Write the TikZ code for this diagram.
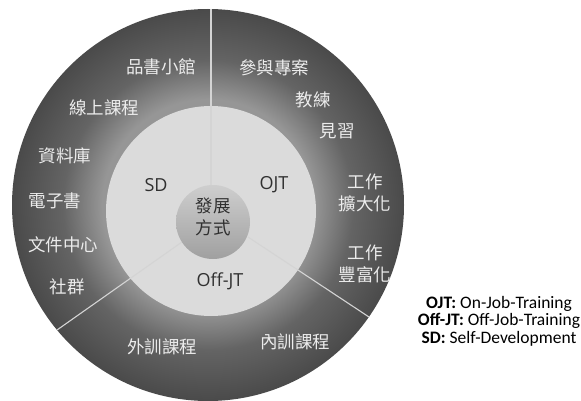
\documentclass[tikz,border=0pt]{standalone}
\usepackage{fontspec}
\setmainfont{Open Sans}
\newfontfamily\cjk{Noto Sans CJK TC}
\newfontfamily\legendfont{Carlito}
\usetikzlibrary{positioning}

\definecolor{ringdark}{RGB}{74,74,74}
\definecolor{ringmid}{RGB}{100,100,100}
\definecolor{ringlight}{RGB}{150,150,150}
\definecolor{disc}{RGB}{219,219,219}
\definecolor{coretop}{RGB}{206,206,206}
\definecolor{corebot}{RGB}{160,160,160}
\definecolor{spoke}{RGB}{212,212,212}
\definecolor{outtext}{RGB}{236,236,236}
\definecolor{intext}{RGB}{48,48,48}

% radius of the ring = 25bp
\pgfdeclareradialshading{ringshade}{\pgfpoint{0bp}{0bp}}{%
  color(0bp)=(ringlight); color(13.5bp)=(ringlight);
  color(18.5bp)=(ringmid); color(25bp)=(ringdark); color(50bp)=(ringdark)}

\begin{document}
\begin{tikzpicture}[
    x=1pt, y=-1pt,
    cjkout/.style={text=outtext, font=\cjk\fontsize{17.5}{22}\selectfont, align=center, inner sep=0pt},
    cjkin/.style={text=intext, font=\cjk\fontsize{17.5}{21.5}\selectfont, align=center, inner sep=0pt},
    inlabel/.style={text=intext, font=\fontsize{18}{22}\selectfont, inner sep=0pt},
    legend/.style={font=\legendfont\fontsize{17.5}{17.5}\selectfont, align=center, inner sep=0pt},
    spokeline/.style={draw=spoke, line width=1.1pt}
]
\useasboundingbox (0,0) rectangle (581,401);
\fill[white] (0,0) rectangle (581,401);

% rings
\coordinate (o) at (208,205);
\coordinate (m) at (211,211);
\coordinate (c) at (213,222);
\path[shading=ringshade] (o) circle (196);
\fill[disc] (m) circle (105);

% spokes
\coordinate (top-in) at (211,185);
\coordinate (top-out) at (211,9);
\coordinate (left-in) at (182,242);
\coordinate (left-out) at (57,330);
\coordinate (right-in) at (248,237);
\coordinate (right-out) at (369,317);
\draw[spokeline] (top-in) -- (top-out);
\draw[spokeline] (left-in) -- (left-out);
\draw[spokeline] (right-in) -- (right-out);

% core
\path[top color=coretop, bottom color=corebot] (c) circle (37);
\node[cjkin] (core) at (213,217) {發展\\方式};

% inner ring
\node[inlabel] (sd) at (156,185) {SD};
\node[inlabel] (ojt) at (274,185) {OJT};
\node[inlabel] (offjt) at (220,281) {Off-JT};

% outer ring, SD side
\node[cjkout] (pinshu) at (161,67) {品書小館};
\node[cjkout] (online) at (104,108) {線上課程};
\node[cjkout] (database) at (65,156) {資料庫};
\node[cjkout] (ebook) at (55,201) {電子書};
\node[cjkout] (docs) at (63,245) {文件中心};
\node[cjkout] (group) at (67,287) {社群};

% outer ring, OJT side
\node[cjkout] (project) at (274,68) {參與專案};
\node[cjkout] (coach) at (313,100) {教練};
\node[cjkout] (intern) at (337,131) {見習};
\node[cjkout] (enlarge) at (365,193) {工作\\擴大化};
\node[cjkout] (enrich) at (365,264) {工作\\豐富化};

% outer ring, Off-JT side
\node[cjkout] (external) at (162,347) {外訓課程};
\node[cjkout] (internal) at (295,342) {內訓課程};

% legend
\node[legend] (key) at (499,321) {\textbf{OJT:} On-Job-Training\\
  \textbf{Off-JT:} Off-Job-Training\\
  \textbf{SD:} Self-Development};
\end{tikzpicture}
\end{document}
